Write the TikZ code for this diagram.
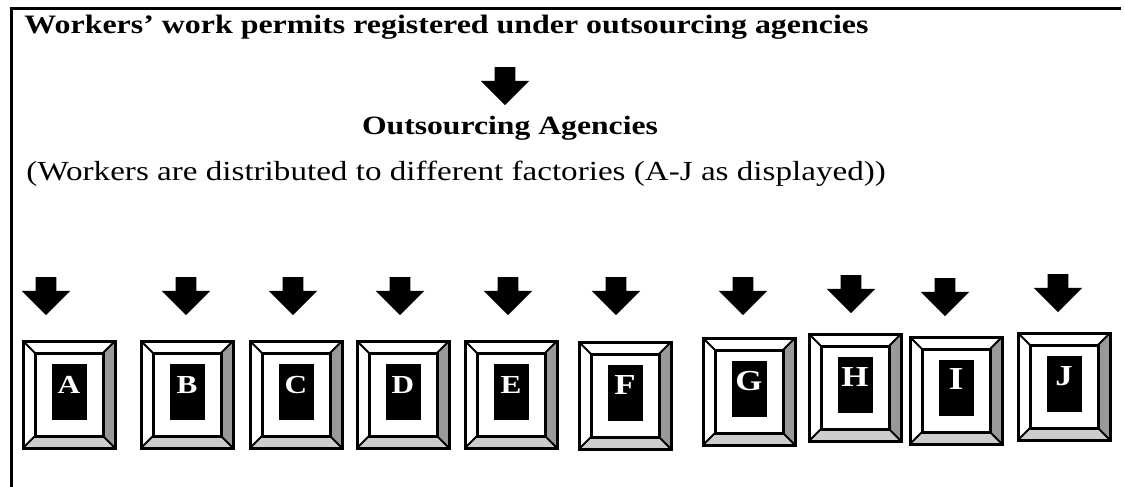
\documentclass[tikz,border=0pt]{standalone}
\usepackage{fontspec}
\setmainfont{Liberation Serif}
\usetikzlibrary{shapes.arrows, positioning, calc}

\begin{document}
\begin{tikzpicture}[x=0.5pt, y=-0.5pt, line join=miter,
    wide/.style={xscale=1.2, inner sep=0pt},
    blockarrow/.style={single arrow, draw=none, fill=black, rotate=-90, minimum height=19pt, minimum width=24pt, single arrow head extend=7pt, inner xsep=0pt, inner ysep=5pt},
    factory/.style={rectangle, minimum width=46pt, minimum height=53.5pt, inner sep=0pt, outer sep=0pt},
    pane/.style={rectangle, minimum width=34pt, minimum height=41.5pt, inner sep=0pt, outer sep=0pt},
    rim/.style={line width=1.5pt},
    bevel/.style={line width=1pt},
    key/.style={rectangle, fill=black, minimum width=17.5pt, minimum height=28pt, inner sep=0pt},
    letter/.style={wide, anchor=base, text=white}]
  \useasboundingbox (0,0) rectangle (1125,487);
  % frame
  \draw[line width=1.5pt] (11.3,487) -- (11.3,8) -- (1121,8);
  % texts
  \node[wide, anchor=base west, font=\fontsize{13.3}{15}\selectfont\bfseries] (title) at (24,33) {Workers’ work permits registered under outsourcing agencies};
  \node[blockarrow] (arrtop) at (505,81) {};
  \node[wide, anchor=base, font=\fontsize{13.2}{15}\selectfont\bfseries] (agency) at (510,134) {Outsourcing Agencies};
  \node[wide, anchor=base west, font=\fontsize{13.8}{16}\selectfont] (note) at (26,180) {(Workers are distributed to different factories (A-J as displayed))};
  % factories
  \foreach \n/\x/\y/\ax/\ay/\s in {A/23/341/46/291/13, B/141/341/186/291/13, C/250/341/293/291/13, D/357/341/400/291/13, E/465/341/508/291/13, F/579/342/616/291/14.5, G/703/338/743/291/14.5, H/809/334/851/289/14.5, I/910/337/945/292/16, J/1018/333/1058/288/14.5}{
    \node[blockarrow] (arr\n) at (\ax,\ay) {};
    \node[factory] (box\n) at (\x+46,\y+53.5) {};
    \node[pane] (pane\n) at (box\n.center) {};
    \fill[black!40] (box\n.north east) -- (box\n.south east) -- (pane\n.south east) -- (pane\n.north east) -- cycle;
    \fill[black!20] (box\n.south west) -- (box\n.south east) -- (pane\n.south east) -- (pane\n.south west) -- cycle;
    \draw[bevel] (box\n.north west) -- (pane\n.north west) (box\n.north east) -- (pane\n.north east)
      (box\n.south west) -- (pane\n.south west) (box\n.south east) -- (pane\n.south east);
    \draw[rim] (box\n.north west) rectangle (box\n.south east);
    \draw[rim] (pane\n.north west) rectangle (pane\n.south east);
    \node[key] (key\n) at ($(box\n.center)+(0,1.45pt)$) {};
    \node[letter, font=\fontsize{\s}{16}\selectfont\bfseries] (let\n) at ($(key\n.north)+(0,-15pt)$) {\n};
  }
\end{tikzpicture}
\end{document}
